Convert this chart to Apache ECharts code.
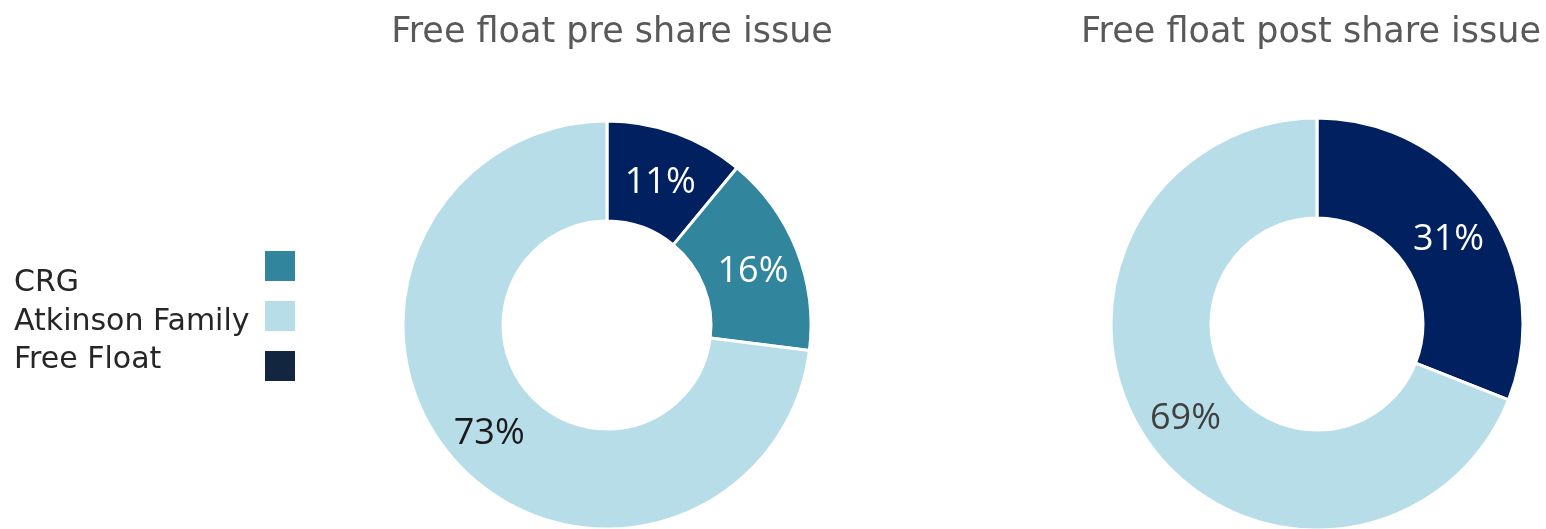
<!DOCTYPE html>
<html>
<head>
  <meta charset="UTF-8">
  <title>Free float pre / post share issue</title>
  <script src="https://cdn.jsdelivr.net/npm/echarts@6/dist/echarts.min.js"></script>
  <style>
    html, body { margin: 0; padding: 0; background: #fff; }
    #chart { width: 1546px; height: 529px; }
  </style>
</head>
<body>
  <div id="chart"></div>
  <script>
    // data
    const titles = ['Free float pre share issue', 'Free float post share issue'];
    const legendNames = ['CRG', 'Atkinson Family', 'Free Float'];
    const legendColors = ['#31859C', '#B7DEE8', '#12263F'];

    const preNames = ['Free Float', 'CRG', 'Atkinson Family'];
    const preValues = [11, 16, 73];
    const postNames = ['Free Float', 'Atkinson Family'];
    const postValues = [31, 69];

    const sliceColors = { 'Free Float': '#002060', 'CRG': '#31859C', 'Atkinson Family': '#B7DEE8' };
    const labelColors = { 'Free Float': '#ffffff', 'CRG': '#ffffff', 'Atkinson Family': '#1a1a1a' };

    const titleFont = '"DejaVu Sans", sans-serif';
    const labelFont = '"Open Sans", sans-serif';

    function buildData(names, values, atkinsonLabel) {
      return names.map((n, i) => ({
        name: n,
        value: values[i],
        itemStyle: { color: sliceColors[n] },
        label: { color: n === 'Atkinson Family' ? atkinsonLabel : labelColors[n] }
      }));
    }

    function donut(center, radius, data) {
      return {
        type: 'pie',
        center: center,
        radius: radius,
        startAngle: 90,
        clockwise: true,
        avoidLabelOverlap: false,
        silent: true,
        itemStyle: { borderColor: '#fff', borderWidth: 3 },
        label: {
          show: true,
          position: 'inside',
          formatter: '{c}%',
          fontFamily: labelFont,
          fontSize: 36,
          offset: [0, 5]
        },
        labelLine: { show: false },
        data: data
      };
    }

    const chart = echarts.init(document.getElementById('chart'));
    chart.setOption({
      animation: false,
      title: [
        { text: titles[0], left: 607, top: 10, textAlign: 'center',
          textStyle: { fontFamily: titleFont, fontWeight: 'normal', fontSize: 35, color: '#595959' } },
        { text: titles[1], left: 1306, top: 10, textAlign: 'center',
          textStyle: { fontFamily: titleFont, fontWeight: 'normal', fontSize: 35, color: '#595959' } }
      ],
      legend: [
        {
          // colour squares
          orient: 'vertical', left: 263, top: 249, padding: 0,
          itemWidth: 32, itemHeight: 32, itemGap: 16,
          icon: 'rect', selectedMode: false,
          formatter: () => '',
          data: legendNames.map((n, i) => ({ name: n, itemStyle: { color: legendColors[i] } }))
        },
        {
          // names
          orient: 'vertical', left: 8, top: 264, padding: 0,
          itemWidth: 0, itemHeight: 0, itemGap: 0,
          icon: 'rect', selectedMode: false,
          textStyle: { fontFamily: titleFont, fontSize: 30, color: '#262626', lineHeight: 38.5 },
          data: legendNames
        }
      ],
      series: [
        donut([607, 325], [104, 204], buildData(preNames, preValues, '#1a1a1a')),
        donut([1317, 324], [106, 206], buildData(postNames, postValues, '#404040'))
      ]
    });
  </script>
</body>
</html>
